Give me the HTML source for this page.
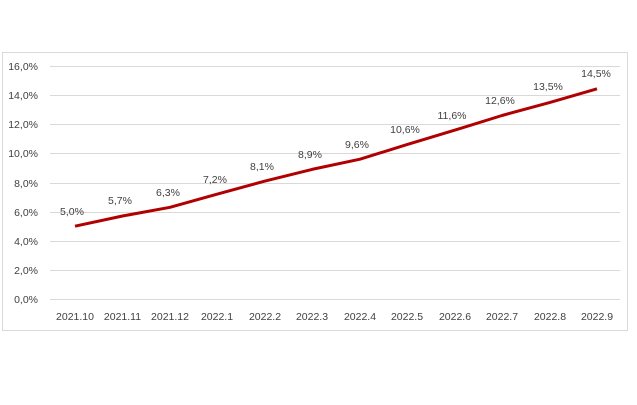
<!DOCTYPE html>
<html><head><style>body{margin:0;background:#fff}</style></head><body>
<svg width="637" height="400" xmlns="http://www.w3.org/2000/svg" font-family="Liberation Sans, sans-serif" font-size="10.5" fill="#404040">
<rect x="2.5" y="52.5" width="625" height="278" fill="#fff" stroke="#d9d9d9"/>
<g stroke="#d9d9d9" stroke-width="1">
<line x1="50" x2="620" y1="66.5" y2="66.5"/><line x1="50" x2="620" y1="95.5" y2="95.5"/><line x1="50" x2="620" y1="124.5" y2="124.5"/><line x1="50" x2="620" y1="153.5" y2="153.5"/><line x1="50" x2="620" y1="183.5" y2="183.5"/><line x1="50" x2="620" y1="212.5" y2="212.5"/><line x1="50" x2="620" y1="241.5" y2="241.5"/><line x1="50" x2="620" y1="270.5" y2="270.5"/><line x1="50" x2="620" y1="299.5" y2="299.5"/>
</g>
<g text-anchor="end">
<text x="38" y="70">16,0%</text><text x="38" y="99">14,0%</text><text x="38" y="128">12,0%</text><text x="38" y="157">10,0%</text><text x="38" y="187">8,0%</text><text x="38" y="216">6,0%</text><text x="38" y="245">4,0%</text><text x="38" y="274">2,0%</text><text x="38" y="303">0,0%</text>
</g>
<g text-anchor="middle">
<text x="75" y="320">2021.10</text><text x="122.5" y="320">2021.11</text><text x="170" y="320">2021.12</text><text x="217" y="320">2022.1</text><text x="265" y="320">2022.2</text><text x="312" y="320">2022.3</text><text x="360" y="320">2022.4</text><text x="407" y="320">2022.5</text><text x="455" y="320">2022.6</text><text x="502" y="320">2022.7</text><text x="550" y="320">2022.8</text><text x="597" y="320">2022.9</text>
</g>
<polyline fill="none" stroke="#b00000" stroke-width="3" stroke-linejoin="round" points="75,226.2 122.5,216 170,207.3 217,194.2 265,181.1 312,169.4 360,159.2 407,144.6 455,130.1 502,115.5 550,102.4 597,88.8"/>
<g text-anchor="middle">
<text x="72" y="215">5,0%</text><text x="120" y="204">5,7%</text><text x="168" y="196">6,3%</text><text x="215" y="183">7,2%</text><text x="262" y="170">8,1%</text><text x="310" y="158">8,9%</text><text x="357" y="148">9,6%</text><text x="405" y="133">10,6%</text><text x="452" y="119">11,6%</text><text x="500" y="104">12,6%</text><text x="548" y="90">13,5%</text><text x="596" y="77">14,5%</text>
</g>
</svg>
</body></html>
